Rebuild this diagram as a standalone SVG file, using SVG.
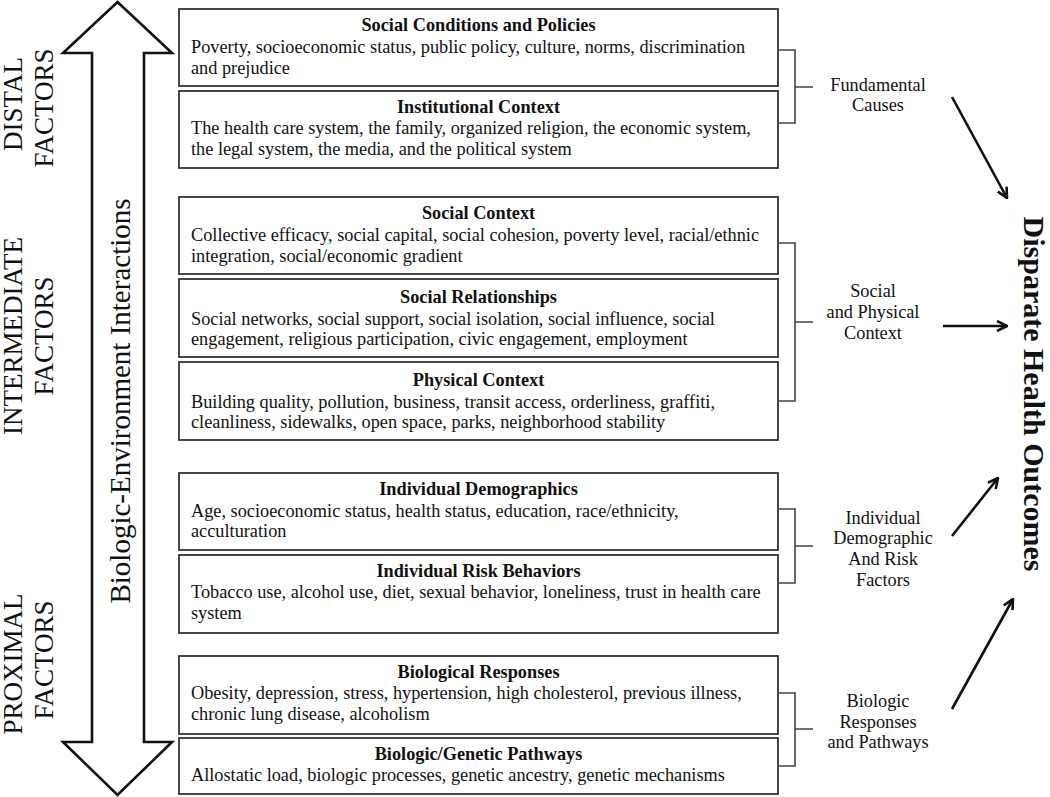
<svg xmlns="http://www.w3.org/2000/svg" width="1050" height="797" viewBox="0 0 1050 797">
<style>
.box{fill:#fff;stroke:#333;stroke-width:1.8}
.t{font-family:"Liberation Serif",serif;font-size:18.3px;fill:#111}
.b{font-weight:bold;text-anchor:middle}
.c{text-anchor:middle}
.side{font-family:"Liberation Serif",serif;font-size:27px;fill:#111;text-anchor:middle}
.br{fill:none;stroke:#444;stroke-width:1.6}
.ar{fill:none;stroke:#111;stroke-width:2.6}
</style>
<defs>
<marker id="ah" viewBox="0 0 12 12" refX="11" refY="6" markerWidth="12" markerHeight="12" markerUnits="userSpaceOnUse" orient="auto">
<path d="M1,1 L11,6 L1,11" fill="none" stroke="#111" stroke-width="2.6"/>
</marker>
</defs>
<rect width="1050" height="797" fill="#fff"/>

<g id="double-arrow">
<polygon points="117.5,2 172,53 144,53 144,742 172,742 117.5,795 63,742 92,742 92,53 63,53" fill="#fff" stroke="#111" stroke-width="2.6" stroke-linejoin="miter"/>
<text class="side" style="font-size:29px" transform="translate(130,401) rotate(-90)">Biologic-Environment Interactions</text>
</g>

<g id="level-labels">
<text class="side" transform="translate(22,104) rotate(-90)">DISTAL</text>
<text class="side" transform="translate(53,108) rotate(-90)">FACTORS</text>
<text class="side" transform="translate(22,336) rotate(-90)">INTERMEDIATE</text>
<text class="side" transform="translate(53,336) rotate(-90)">FACTORS</text>
<text class="side" transform="translate(22,664) rotate(-90)">PROXIMAL</text>
<text class="side" transform="translate(53,660) rotate(-90)">FACTORS</text>
</g>

<g id="box-social-conditions">
<rect class="box" x="179" y="9" width="599" height="77"/>
<text class="t b" x="478.5" y="31">Social Conditions and Policies</text>
<text class="t" x="191" y="53">Poverty, socioeconomic status, public policy, culture, norms, discrimination</text>
<text class="t" x="191" y="74">and prejudice</text>
</g>
<g id="box-institutional">
<rect class="box" x="179" y="91" width="599" height="77"/>
<text class="t b" x="478.5" y="113">Institutional Context</text>
<text class="t" x="191" y="134">The health care system, the family, organized religion, the economic system,</text>
<text class="t" x="191" y="155">the legal system, the media, and the political system</text>
</g>
<g id="box-social-context">
<rect class="box" x="179" y="197" width="599" height="77"/>
<text class="t b" x="478.5" y="219">Social Context</text>
<text class="t" x="191" y="241">Collective efficacy, social capital, social cohesion, poverty level, racial/ethnic</text>
<text class="t" x="191" y="262">integration, social/economic gradient</text>
</g>
<g id="box-social-relationships">
<rect class="box" x="179" y="279" width="599" height="78"/>
<text class="t b" x="478.5" y="303">Social Relationships</text>
<text class="t" x="191" y="325">Social networks, social support, social isolation, social influence, social</text>
<text class="t" x="191" y="345">engagement, religious participation, civic engagement, employment</text>
</g>
<g id="box-physical-context">
<rect class="box" x="179" y="362" width="599" height="78"/>
<text class="t b" x="478.5" y="386">Physical Context</text>
<text class="t" x="191" y="408">Building quality, pollution, business, transit access, orderliness, graffiti,</text>
<text class="t" x="191" y="428">cleanliness, sidewalks, open space, parks, neighborhood stability</text>
</g>
<g id="box-individual-demographics">
<rect class="box" x="179" y="473" width="599" height="77"/>
<text class="t b" x="478.5" y="495">Individual Demographics</text>
<text class="t" x="191" y="517">Age, socioeconomic status, health status, education, race/ethnicity,</text>
<text class="t" x="191" y="537">acculturation</text>
</g>
<g id="box-individual-risk">
<rect class="box" x="179" y="555" width="599" height="78"/>
<text class="t b" x="478.5" y="577">Individual Risk Behaviors</text>
<text class="t" x="191" y="598">Tobacco use, alcohol use, diet, sexual behavior, loneliness, trust in health care</text>
<text class="t" x="191" y="619">system</text>
</g>
<g id="box-biological-responses">
<rect class="box" x="179" y="656" width="599" height="78"/>
<text class="t b" x="478.5" y="678">Biological Responses</text>
<text class="t" x="191" y="699">Obesity, depression, stress, hypertension, high cholesterol, previous illness,</text>
<text class="t" x="191" y="720">chronic lung disease, alcoholism</text>
</g>
<g id="box-biologic-genetic">
<rect class="box" x="179" y="738" width="599" height="56"/>
<text class="t b" x="478.5" y="760">Biologic/Genetic Pathways</text>
<text class="t" x="191" y="781">Allostatic load, biologic processes, genetic ancestry, genetic mechanisms</text>
</g>

<g id="label-fundamental">
<text class="t c" x="878" y="91">Fundamental</text>
<text class="t c" x="878" y="111">Causes</text>
</g>
<g id="label-social-physical">
<text class="t c" x="873" y="297">Social</text>
<text class="t c" x="873" y="318">and Physical</text>
<text class="t c" x="873" y="339">Context</text>
</g>
<g id="label-individual">
<text class="t c" x="883" y="524">Individual</text>
<text class="t c" x="883" y="544">Demographic</text>
<text class="t c" x="883" y="565">And Risk</text>
<text class="t c" x="883" y="586">Factors</text>
</g>
<g id="label-biologic">
<text class="t c" x="878" y="707">Biologic</text>
<text class="t c" x="878" y="728">Responses</text>
<text class="t c" x="878" y="748">and Pathways</text>
</g>
<g id="outcome">
<text transform="translate(1024,394) rotate(90)" font-family="Liberation Serif,serif" font-size="30" font-weight="bold" text-anchor="middle" fill="#111">Disparate Health Outcomes</text>
</g>

<g id="connectors">
<path class="br" d="M778,50 H795 V123 H778 M795,87 H813"/>
<path class="br" d="M778,243 H795 V401 H778 M795,322 H813"/>
<path class="br" d="M778,509 H795 V583 H778 M795,546 H813"/>
<path class="br" d="M778,693 H795 V766 H778 M795,729 H813"/>
<line class="ar" x1="952" y1="97" x2="1007" y2="198" marker-end="url(#ah)"/>
<line class="ar" x1="943" y1="326" x2="1007" y2="326" marker-end="url(#ah)"/>
<line class="ar" x1="952" y1="536" x2="998" y2="478" marker-end="url(#ah)"/>
<line class="ar" x1="952" y1="709" x2="1013" y2="599" marker-end="url(#ah)"/>
</g>
</svg>
